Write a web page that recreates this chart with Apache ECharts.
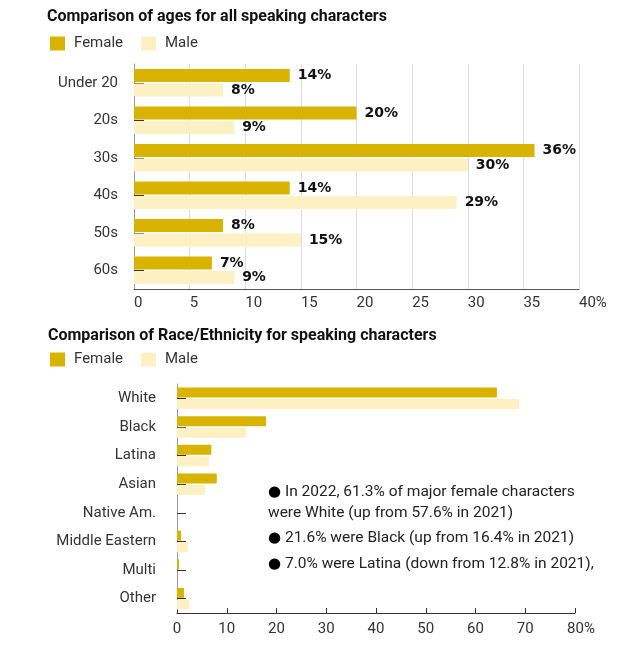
<!DOCTYPE html>
<html>
<head>
<meta charset="utf-8">
<script src="https://cdn.jsdelivr.net/npm/echarts@6/dist/echarts.min.js"></script>
<style>html,body{margin:0;padding:0;background:#fff}#c{width:620px;height:657px}</style>
</head>
<body>
<div id="c"></div>
<script>
const ageCategories = ['Under 20', '20s', '30s', '40s', '50s', '60s'];
const ageFemale = [14, 20, 36, 14, 8, 7];
const ageMale = [8, 9, 30, 29, 15, 9];
const ageTicks = [0, 5, 10, 15, 20, 25, 30, 35, 40];

const raceCategories = ['White', 'Black', 'Latina', 'Asian', 'Native Am.', 'Middle Eastern', 'Multi', 'Other'];
const raceFemale = [64.3, 17.9, 6.9, 8.0, 0, 0.8, 0.4, 1.4];
const raceMale = [68.8, 13.9, 6.4, 5.6, 0, 2.2, 0, 2.5];
const raceTicks = [0, 10, 20, 30, 40, 50, 60, 70, 80];

const notes = [
  { bullet: true, text: 'In 2022, 61.3% of major female characters' },
  { bullet: false, text: 'were White (up from 57.6% in 2021)' },
  { bullet: true, text: '21.6% were Black (up from 16.4% in 2021)' },
  { bullet: true, text: '7.0% were Latina (down from 12.8% in 2021),' }
];

const FEMALE = '#D8B300';
const MALE = '#FDF0C3';
const FONT = 'Roboto';

const chart = echarts.init(document.getElementById('c'));

const labelStyle = { show: true, position: 'right', distance: 8, formatter: '{c}%', color: '#111', fontWeight: 'bold', fontSize: 14, fontFamily: 'DejaVu Sans' };

chart.setOption({
  animation: false,
  textStyle: { fontFamily: FONT },
  title: [
    { text: 'Comparison of ages for all speaking characters', left: 42, top: 4, textStyle: { fontSize: 16, fontWeight: 'bold', color: '#111', fontFamily: FONT } },
    { text: 'Comparison of Race/Ethnicity for speaking characters', left: 43, top: 323, textStyle: { fontSize: 16, fontWeight: 'bold', color: '#111', fontFamily: FONT } }
  ],
  legend: [
    { left: 45, top: 31, itemWidth: 15, itemHeight: 14, itemGap: 18, icon: 'rect', data: ['Female', 'Male'], textStyle: { fontSize: 15, color: '#333', padding: [0, 0, 0, 4] } },
    { left: 45, top: 347, itemWidth: 15, itemHeight: 14, itemGap: 18, icon: 'rect', data: ['Female', 'Male'], textStyle: { fontSize: 15, color: '#333', padding: [0, 0, 0, 4] } }
  ],
  grid: [
    { left: 134, right: 41, top: 64, bottom: 368 },
    { left: 177, right: 45, top: 384, bottom: 44 }
  ],
  xAxis: [
    { gridIndex: 0, type: 'value', min: ageTicks[0], max: ageTicks[ageTicks.length - 1], interval: 5,
      axisLine: { show: true, lineStyle: { color: '#555' } }, axisTick: { show: false },
      splitLine: { show: true, lineStyle: { color: '#ddd' } },
      axisLabel: { fontSize: 15, color: '#333', margin: 7, align: 'left', formatter: v => v === 40 ? v + '%' : String(v) } },
    { gridIndex: 1, type: 'value', min: raceTicks[0], max: raceTicks[raceTicks.length - 1], interval: 10,
      axisLine: { show: true, lineStyle: { color: '#333' } }, axisTick: { show: true, inside: true, length: 5, lineStyle: { color: '#333' } },
      splitLine: { show: false },
      axisLabel: { fontSize: 15, color: '#333', margin: 9,
        formatter: v => v === 80 ? '{p|80%}' : String(v),
        rich: { p: { fontSize: 15, color: '#333', padding: [0, 0, 0, 12] } } } }
  ],
  yAxis: [
    { gridIndex: 0, type: 'category', data: ageCategories, inverse: true,
      axisLine: { show: true, lineStyle: { color: '#999' } },
      axisTick: { show: true, inside: true, length: 10, alignWithLabel: true, lineStyle: { color: '#333' } },
      axisLabel: { fontSize: 15, color: '#333', margin: 16 } },
    { gridIndex: 1, type: 'category', data: raceCategories, inverse: true,
      axisLine: { show: true, lineStyle: { color: '#999' } },
      axisTick: { show: true, inside: true, length: 9, alignWithLabel: true, lineStyle: { color: '#333' } },
      axisLabel: { fontSize: 15, color: '#333', margin: 21 } }
  ],
  series: [
    { name: 'Female', type: 'bar', xAxisIndex: 0, yAxisIndex: 0, data: ageFemale, barWidth: 13, barGap: '12%', itemStyle: { color: FEMALE }, label: labelStyle, z: 1 },
    { name: 'Male', type: 'bar', xAxisIndex: 0, yAxisIndex: 0, data: ageMale, barWidth: 13, barGap: '12%', itemStyle: { color: MALE }, label: labelStyle, z: 1 },
    { name: 'Female', type: 'bar', xAxisIndex: 1, yAxisIndex: 1, data: raceFemale, barWidth: 10, barGap: '15%', itemStyle: { color: FEMALE }, z: 1 },
    { name: 'Male', type: 'bar', xAxisIndex: 1, yAxisIndex: 1, data: raceMale, barWidth: 10, barGap: '15%', itemStyle: { color: MALE }, z: 1 }
  ],
  graphic: notes.map((n, i) => ({
    type: 'text', left: 268, top: [484, 505, 530, 556][i],
    style: {
      text: n.bullet ? '{b|\u25CF} ' + n.text : n.text,
      fontSize: 15.5, fill: '#222', fontFamily: FONT,
      rich: { b: { fontSize: 15, fill: '#000', fontFamily: 'DejaVu Sans' } }
    }
  }))
});
</script>
</body>
</html>
